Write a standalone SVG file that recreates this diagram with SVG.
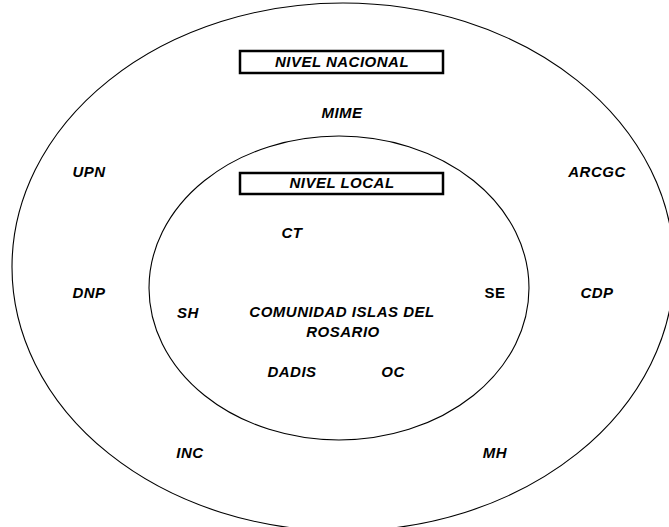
<svg xmlns="http://www.w3.org/2000/svg" width="669" height="527" viewBox="0 0 669 527">
<style>
.ring{fill:none;stroke:#000;stroke-width:1.1}
.box{fill:#fff;stroke:#000;stroke-width:2.5}
text{font-family:"Liberation Sans",Arial,sans-serif;font-size:15px;font-weight:bold;font-style:italic;letter-spacing:0.5px;fill:#000;text-anchor:middle}
text.up{font-style:normal}
</style>
<rect width="669" height="527" fill="#fff"/>
<g id="nivel-nacional-ring"><ellipse class="ring" cx="343" cy="267" rx="331" ry="264"/></g>
<g id="nivel-local-ring"><ellipse class="ring" cx="339" cy="288" rx="190" ry="152"/></g>
<g id="nivel-nacional"><rect class="box" x="240" y="51" width="203" height="22"/><text x="342" y="67">NIVEL NACIONAL</text></g>
<g id="nivel-local"><rect class="box" x="240" y="173" width="203" height="21"/><text x="342" y="188">NIVEL LOCAL</text></g>
<g id="mime"><text x="342" y="118">MIME</text></g>
<g id="upn"><text x="89" y="177">UPN</text></g>
<g id="arcgc"><text x="597" y="177">ARCGC</text></g>
<g id="ct"><text x="292" y="238">CT</text></g>
<g id="dnp"><text x="89" y="298">DNP</text></g>
<g id="cdp"><text x="597" y="298">CDP</text></g>
<g id="se"><text class="up" x="495" y="298">SE</text></g>
<g id="sh"><text x="188" y="318">SH</text></g>
<g id="comunidad"><text x="342" y="317">COMUNIDAD ISLAS DEL</text><text x="343" y="337">ROSARIO</text></g>
<g id="dadis"><text x="292" y="377">DADIS</text></g>
<g id="oc"><text x="393" y="377">OC</text></g>
<g id="inc"><text x="190" y="458">INC</text></g>
<g id="mh"><text x="495" y="458">MH</text></g>
<g id="connectors"/>
</svg>
